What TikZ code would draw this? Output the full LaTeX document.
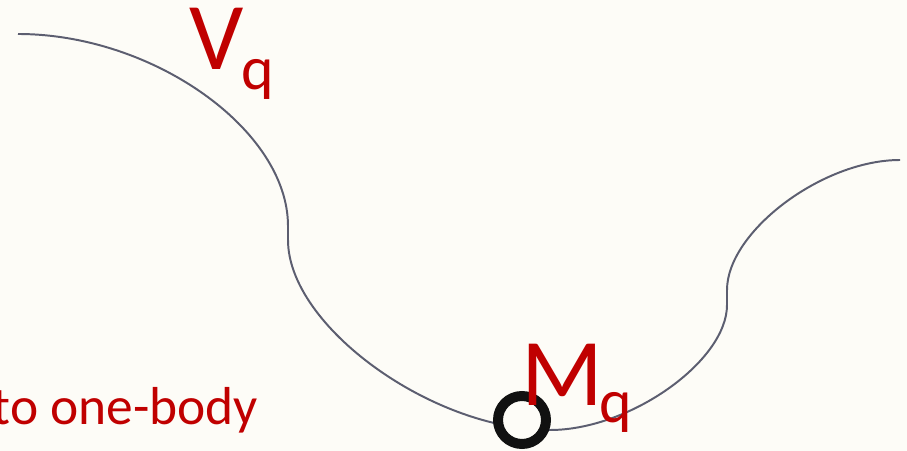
\documentclass[tikz,border=0pt]{standalone}
\usepackage{fontspec}
\setmainfont{Carlito}
\usetikzlibrary{positioning,calc}
\definecolor{paperbg}{RGB}{253,252,247}
\definecolor{wellred}{RGB}{192,0,0}
\definecolor{curvegray}{RGB}{92,94,112}
\definecolor{ballblack}{RGB}{17,17,17}

\begin{document}
\begin{tikzpicture}[x=0.025cm, y=-0.025cm,
    label/.style={text=wellred, inner sep=0pt, outer sep=0pt},
    big/.style={label, font=\fontsize{68}{68}\selectfont},
    small/.style={label, font=\fontsize{44}{44}\selectfont},
    note/.style={label, font=\fontsize{38}{38}\selectfont}]
  \fill[paperbg] (0,0) rectangle (907,451);
  \useasboundingbox (0,0) rectangle (907,451);
  % potential well
  \draw[curvegray, line width=1.4pt]
    (18,34) .. controls (153,34) and (288,130) .. (288,226)
    -- (288,240) .. controls (288,326) and (432,430) .. (550,430)
    .. controls (630,430) and (727,361) .. (727,305)
    -- (727,290) .. controls (727,232) and (822,160) .. (900,160);
  % particle
  \draw[ballblack, fill=paperbg, line width=7.1pt] (522,420) circle (24);
  % labels
  \node[big, anchor=base west] (V) at (189,70) {V};
  \node[small, anchor=base west] (Vsub) at (241,90) {q};
  \node[big, anchor=base west] (M) at (521,405) {M};
  \node[small, anchor=base west] (Msub) at (599,422) {q};
  \node[note, anchor=base east] (onebody) at (258,425) {to one-body};
\end{tikzpicture}
\end{document}
